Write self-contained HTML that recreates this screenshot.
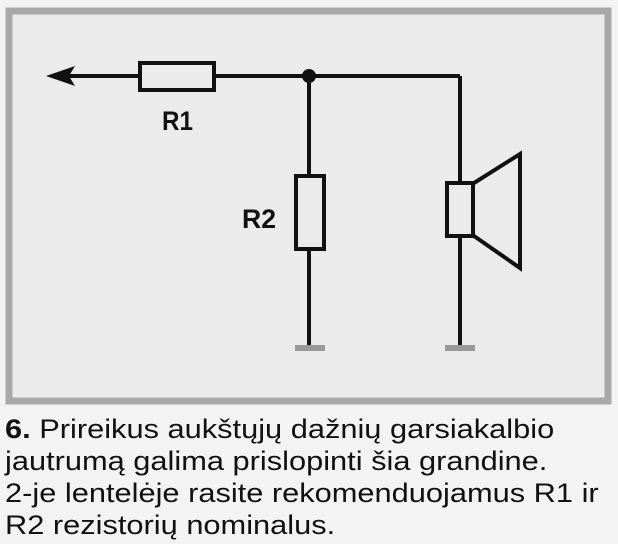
<!DOCTYPE html>
<html><head><meta charset="utf-8"><style>
html,body{margin:0;padding:0;background:#f3f3f3;}
body{width:618px;height:544px;position:relative;overflow:hidden;font-family:"Liberation Sans",sans-serif;}
#t{position:absolute;left:5px;top:413px;font-size:27px;line-height:32px;color:#111;white-space:nowrap;transform:scaleX(1.14);transform-origin:0 0}
</style></head><body>
<svg width="618" height="544" style="position:absolute;left:0;top:0">
<rect x="9" y="11" width="599" height="390" fill="#ebebeb" stroke="#a8a8a8" stroke-width="7"/>
<g stroke="#111" stroke-width="4" fill="none">
<line x1="58" y1="76" x2="140" y2="76"/>
<line x1="214" y1="76" x2="460" y2="76"/>
<line x1="460" y1="76" x2="460" y2="183"/>
<line x1="460" y1="236" x2="460" y2="346"/>
<line x1="309" y1="76" x2="309" y2="176"/>
<line x1="309" y1="249" x2="309" y2="346"/>
<rect x="140" y="63" width="74" height="27"/>
<rect x="296" y="176" width="28" height="73"/>
<rect x="447" y="183" width="26" height="53"/>
<polyline points="474,183 520,154 520,268 474,236"/>
</g>
<polygon points="46,76 75,66 69,76 75,86" fill="#111"/>
<circle cx="309" cy="76" r="7" fill="#111"/>
<rect x="295" y="345" width="30" height="6" fill="#999"/>
<rect x="445" y="345" width="30" height="6" fill="#999"/>
<text x="162" y="130" font-size="27" font-weight="bold" fill="#111" font-family="Liberation Sans" textLength="31" lengthAdjust="spacingAndGlyphs">R1</text>
<text x="242" y="228" font-size="27" font-weight="bold" fill="#111" font-family="Liberation Sans" textLength="34" lengthAdjust="spacingAndGlyphs">R2</text>
</svg>
<div id="t"><b>6.</b> Prireikus aukštųjų dažnių garsiakalbio<br>jautrumą galima prislopinti šia grandine.<br>2-je lentelėje rasite rekomenduojamus R1 ir<br>R2 rezistorių nominalus.</div>
</body></html>
